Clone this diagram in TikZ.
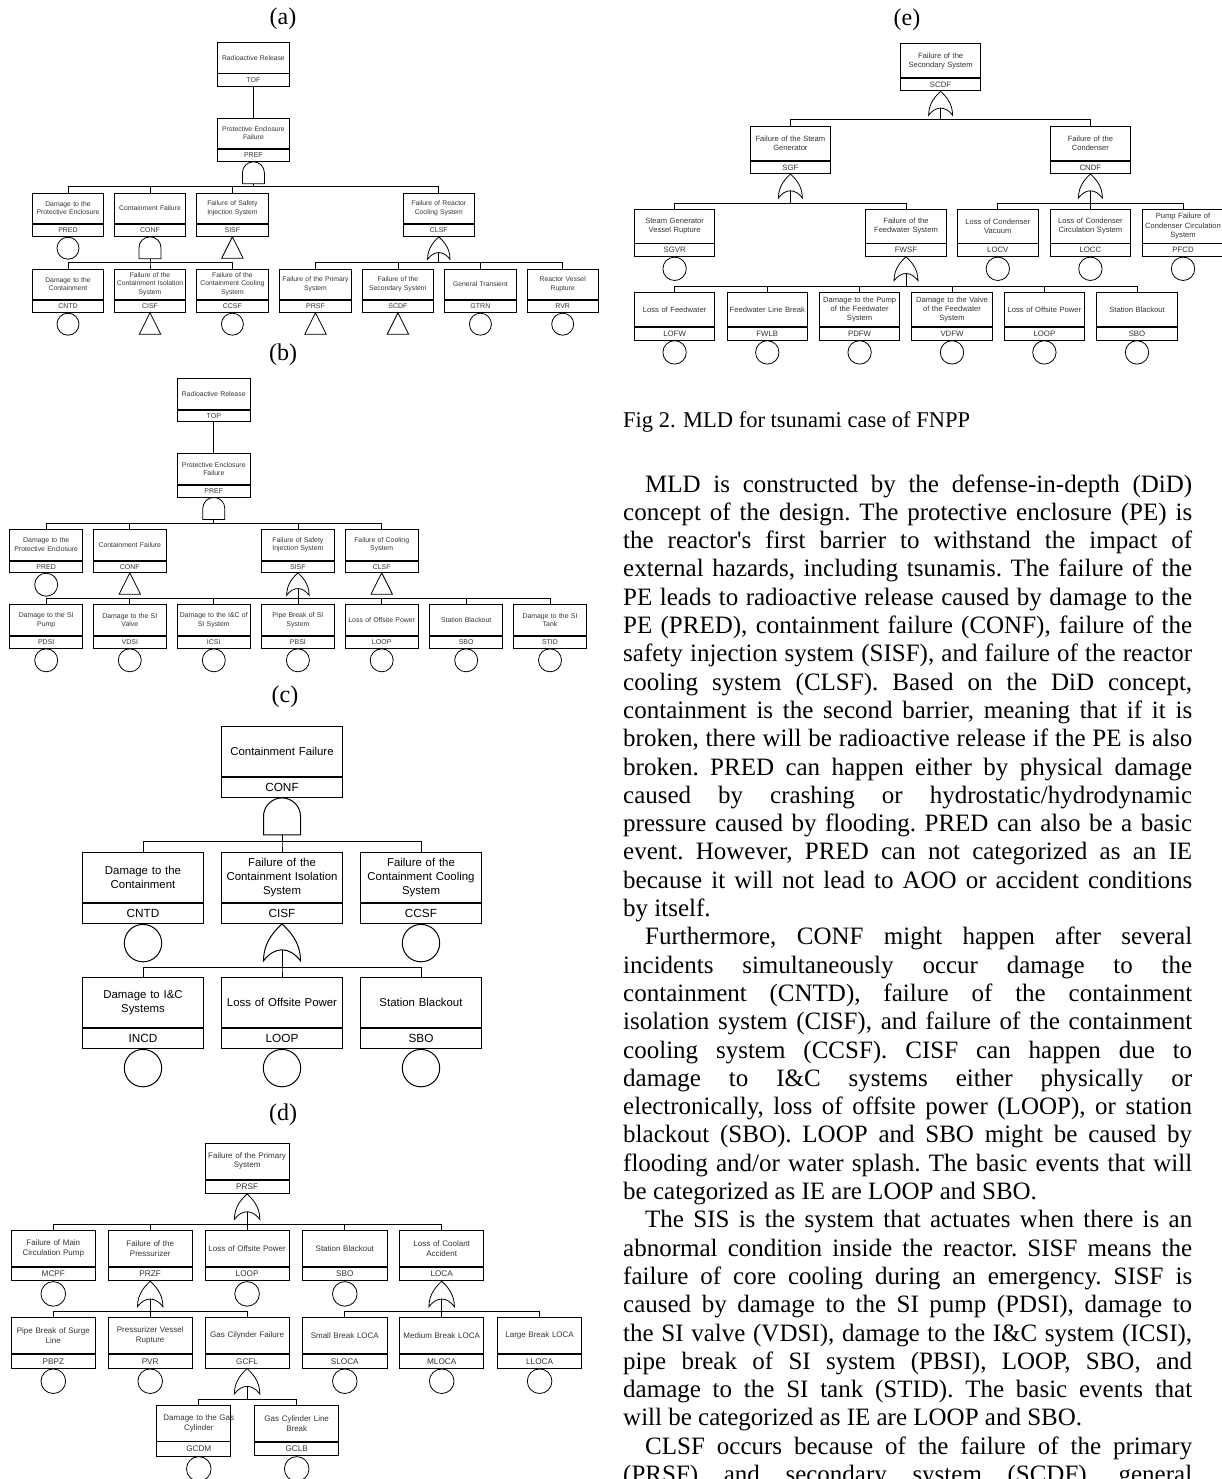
\documentclass[tikz,border=0pt]{standalone}
\usepackage{fontspec}
\setmainfont{Liberation Serif}
\newfontfamily\evfont{Liberation Sans}
\usetikzlibrary{positioning}

\tikzset{
  evname/.style={draw, rectangle, inner sep=0pt, anchor=north, align=center},
  evcode/.style={draw, rectangle, inner sep=0pt},
  basic/.style={draw, circle, inner sep=0pt},
  lbl/.style={font=\fontsize{24}{28}\selectfont},
  % gates, apex on the box above
  andgate/.pic={
    \draw (-0.5*#1,#1) -- (-0.5*#1,0.5*#1) .. controls (-0.5*#1,0.224*#1) and (-0.276*#1,0) .. (0,0)
      .. controls (0.276*#1,0) and (0.5*#1,0.224*#1) .. (0.5*#1,0.5*#1) -- (0.5*#1,#1) -- cycle;
    \coordinate (-bot) at (0,#1);
  },
  orgate/.pic={
    \draw (0,0) .. controls (0.15*#1,0.15*#1) and (0.5*#1,0.45*#1) .. (0.5*#1,#1)
      .. controls (0.2*#1,0.6*#1) and (-0.2*#1,0.6*#1) .. (-0.5*#1,#1)
      .. controls (-0.5*#1,0.45*#1) and (-0.15*#1,0.15*#1) .. (0,0) -- cycle;
    \coordinate (-bot) at (0,0.7*#1);
  },
  xfer/.pic={
    \draw (0,0) -- (0.5*#1,#1) -- (-0.5*#1,#1) -- cycle;
  }
}

\begin{document}
\begin{tikzpicture}[x=1pt,y=-1pt]
\useasboundingbox (0,0) rectangle (1222,1479);

%% ---------------- (a) ----------------
\node[lbl] (la) at (283,19) {(a)};
\begin{scope}[line width=0.8pt,
  na/.style={evname, minimum width=71.5, text width=69, minimum height=30.4, text=black!80, font=\evfont\fontsize{6.8}{8.2}\selectfont},
  ca/.style={evcode, minimum width=71.5, minimum height=12.2, text=black!80, font=\evfont\fontsize{7}{8.2}\selectfont},
  ba/.style={basic, minimum size=22}]
\node[na] (atop) at (253.4,42.2) {Radioactive Release};
\node[ca, below=0pt of atop] (atopc) {TOF};
\node[na] (apref) at (253.4,117.6) {Protective Enclosure\\Failure};
\node[ca, below=0pt of apref] (aprefc) {PREF};
\draw (atopc) -- (apref);
\pic (aprefg) at (aprefc.south) {andgate=22};
\coordinate (abus1) at (0,186.8);

% first level
\node[na] (apred) at (68,192.6) {Damage to the\\Protective Enclosure};
\node[ca, below=0pt of apred] (apredc) {PRED};
\node[na] (aconf) at (150,192.6) {Containment Failure};
\node[ca, below=0pt of aconf] (aconfc) {CONF};
\node[na] (asisf) at (232.4,192.6) {Failure of Safety\\Injection System};
\node[ca, below=0pt of asisf] (asisfc) {SISF};
\node[na] (aclsf) at (438.8,192.6) {Failure of Reactor\\Cooling System};
\node[ca, below=0pt of aclsf] (aclsfc) {CLSF};
\draw (aprefg-bot) -- (aprefg-bot |- abus1) -| (apred.north);
\draw (aprefg-bot) -- (aprefg-bot |- abus1) -| (aconf.north);
\draw (aprefg-bot) -- (aprefg-bot |- abus1) -| (asisf.north);
\draw (aprefg-bot) -- (aprefg-bot |- abus1) -| (aclsf.north);
\node[ba, below=0pt of apredc] (apredb) {};
\pic (aconfg) at (aconfc.south) {andgate=22};
\pic (asisft) at (asisfc.south) {xfer=21.5};
\pic (aclsfg) at (aclsfc.south) {orgate=22.5};
\coordinate (abus2) at (0,262.8);

% second level
\node[na] (acntd) at (68,268.6) {Damage to the\\Containment};
\node[ca, below=0pt of acntd] (acntdc) {CNTD};
\node[na] (acisf) at (150,268.6) {Failure of the\\Containment Isolation\\System};
\node[ca, below=0pt of acisf] (acisfc) {CISF};
\node[na] (accsf) at (232.4,268.6) {Failure of the\\Containment Cooling\\System};
\node[ca, below=0pt of accsf] (accsfc) {CCSF};
\node[na] (aprsf) at (315.5,268.6) {Failure of the Primary\\System};
\node[ca, below=0pt of aprsf] (aprsfc) {PRSF};
\node[na] (ascdf) at (397.9,268.6) {Failure of the\\Secondary System};
\node[ca, below=0pt of ascdf] (ascdfc) {SCDF};
\node[na] (agtrn) at (480.4,268.6) {General Transient};
\node[ca, below=0pt of agtrn] (agtrnc) {GTRN};
\node[na] (arvr) at (562.7,268.6) {Reactor Vessel\\Rupture};
\node[ca, below=0pt of arvr] (arvrc) {RVR};
\draw (aconfg-bot) -- (aconfg-bot |- abus2) -| (acntd.north);
\draw (aconfg-bot) -- (aconfg-bot |- abus2) -| (acisf.north);
\draw (aconfg-bot) -- (aconfg-bot |- abus2) -| (accsf.north);
\draw (aclsfg-bot) -- (aclsfg-bot |- abus2) -| (aprsf.north);
\draw (aclsfg-bot) -- (aclsfg-bot |- abus2) -| (ascdf.north);
\draw (aclsfg-bot) -- (aclsfg-bot |- abus2) -| (agtrn.north);
\draw (aclsfg-bot) -- (aclsfg-bot |- abus2) -| (arvr.north);
\node[ba, below=0pt of acntdc] (acntdb) {};
\pic (acisft) at (acisfc.south) {xfer=21.5};
\node[ba, below=0pt of accsfc] (accsfb) {};
\pic (aprsft) at (aprsfc.south) {xfer=21.5};
\pic (ascdft) at (ascdfc.south) {xfer=21.5};
\node[ba, below=0pt of agtrnc] (agtrnb) {};
\node[ba, below=0pt of arvrc] (arvrb) {};
\end{scope}

%% ---------------- (b) ----------------
\node[lbl] (lb) at (283,355) {(b)};
\begin{scope}[line width=0.8pt,
  nb/.style={evname, minimum width=73, text width=71, minimum height=31, text=black!80, font=\evfont\fontsize{6.9}{8.3}\selectfont},
  cb/.style={evcode, minimum width=73, minimum height=11.5, text=black!80, font=\evfont\fontsize{7}{8.3}\selectfont},
  bb/.style={basic, minimum size=23}]
\node[nb] (btop) at (213.8,377.7) {Radioactive Release};
\node[cb, below=0pt of btop] (btopc) {TOP};
\node[nb] (bpref) at (213.8,453.3) {Protective Enclosure\\Failure};
\node[cb, below=0pt of bpref] (bprefc) {PREF};
\draw (btopc) -- (bpref);
\pic (bprefg) at (bprefc.south) {andgate=22};
\coordinate (bbus1) at (0,523.7);

\node[nb] (bpred) at (46.2,528.7) {Damage to the\\Protective Enclosure};
\node[cb, below=0pt of bpred] (bpredc) {PRED};
\node[nb] (bconf) at (129.8,528.7) {Containment Failure};
\node[cb, below=0pt of bconf] (bconfc) {CONF};
\node[nb] (bsisf) at (297.9,528.7) {Failure of Safety\\Injection System};
\node[cb, below=0pt of bsisf] (bsisfc) {SISF};
\node[nb] (bclsf) at (381.7,528.7) {Failure of Cooling\\System};
\node[cb, below=0pt of bclsf] (bclsfc) {CLSF};
\draw (bprefg-bot) -- (bprefg-bot |- bbus1) -| (bpred.north);
\draw (bprefg-bot) -- (bprefg-bot |- bbus1) -| (bconf.north);
\draw (bprefg-bot) -- (bprefg-bot |- bbus1) -| (bsisf.north);
\draw (bprefg-bot) -- (bprefg-bot |- bbus1) -| (bclsf.north);
\node[bb, below=0pt of bpredc] (bpredb) {};
\pic (bconft) at (bconfc.south) {xfer=21.5};
\pic (bsisfg) at (bsisfc.south) {orgate=22.5};
\pic (bclsft) at (bclsfc.south) {xfer=21.5};
\coordinate (bbus2) at (0,598.3);

\node[nb] (bpdsi) at (46.2,604.3) {Damage to the SI\\Pump};
\node[cb, below=0pt of bpdsi] (bpdsic) {PDSI};
\node[nb] (bvdsi) at (129.8,604.3) {Damage to the SI\\Valve};
\node[cb, below=0pt of bvdsi] (bvdsic) {VDSI};
\node[nb] (bicsi) at (213.8,604.3) {Damage to the I\&C of\\SI System};
\node[cb, below=0pt of bicsi] (bicsic) {ICSI};
\node[nb] (bpbsi) at (297.9,604.3) {Pipe Break of SI\\System};
\node[cb, below=0pt of bpbsi] (bpbsic) {PBSI};
\node[nb] (bloop) at (381.7,604.3) {Loss of Offsite Power};
\node[cb, below=0pt of bloop] (bloopc) {LOOP};
\node[nb] (bsbo) at (466.2,604.3) {Station Blackout};
\node[cb, below=0pt of bsbo] (bsboc) {SBO};
\node[nb] (bstid) at (550,604.3) {Damage to the SI\\Tank};
\node[cb, below=0pt of bstid] (bstidc) {STID};
\draw (bsisfg-bot) -- (bsisfg-bot |- bbus2) -| (bpdsi.north);
\draw (bsisfg-bot) -- (bsisfg-bot |- bbus2) -| (bvdsi.north);
\draw (bsisfg-bot) -- (bsisfg-bot |- bbus2) -| (bicsi.north);
\draw (bsisfg-bot) -- (bsisfg-bot |- bbus2) -| (bpbsi.north);
\draw (bsisfg-bot) -- (bsisfg-bot |- bbus2) -| (bloop.north);
\draw (bsisfg-bot) -- (bsisfg-bot |- bbus2) -| (bsbo.north);
\draw (bsisfg-bot) -- (bsisfg-bot |- bbus2) -| (bstid.north);
\node[bb, below=0pt of bpdsic] (bpdsib) {};
\node[bb, below=0pt of bvdsic] (bvdsib) {};
\node[bb, below=0pt of bicsic] (bicsib) {};
\node[bb, below=0pt of bpbsic] (bpbsib) {};
\node[bb, below=0pt of bloopc] (bloopb) {};
\node[bb, below=0pt of bsboc] (bsbob) {};
\node[bb, below=0pt of bstidc] (bstidb) {};
\end{scope}

%% ---------------- (c) ----------------
\node[lbl] (lc) at (285,697) {(c)};
\begin{scope}[line width=1pt,
  nc/.style={evname, minimum width=120.6, text width=117, minimum height=50.5, font=\evfont\fontsize{11.4}{13.7}\selectfont},
  cc/.style={evcode, minimum width=120.6, minimum height=19.7, font=\evfont\fontsize{11.8}{13.7}\selectfont},
  bc/.style={basic, minimum size=37.4}]
\node[nc] (cconf) at (282,725.7) {Containment Failure};
\node[cc, below=0pt of cconf] (cconfc) {CONF};
\pic (cconfg) at (cconfc.south) {andgate=37};
\coordinate (cbus1) at (0,841.7);

\node[nc] (ccntd) at (143,851.7) {Damage to the\\Containment};
\node[cc, below=0pt of ccntd] (ccntdc) {CNTD};
\node[nc] (ccisf) at (282,851.7) {Failure of the\\Containment Isolation\\System};
\node[cc, below=0pt of ccisf] (ccisfc) {CISF};
\node[nc] (cccsf) at (421,851.7) {Failure of the\\Containment Cooling\\System};
\node[cc, below=0pt of cccsf] (cccsfc) {CCSF};
\draw (cconfg-bot) -- (cconfg-bot |- cbus1) -| (ccntd.north);
\draw (cconfg-bot) -- (cconfg-bot |- cbus1) -| (ccisf.north);
\draw (cconfg-bot) -- (cconfg-bot |- cbus1) -| (cccsf.north);
\node[bc, below=0pt of ccntdc] (ccntdb) {};
\pic (ccisfg) at (ccisfc.south) {orgate=37};
\node[bc, below=0pt of cccsfc] (cccsfb) {};
\coordinate (cbus2) at (0,967.3);

\node[nc] (cincd) at (143,976.7) {Damage to I\&C\\Systems};
\node[cc, below=0pt of cincd] (cincdc) {INCD};
\node[nc] (cloop) at (282,976.7) {Loss of Offsite Power};
\node[cc, below=0pt of cloop] (cloopc) {LOOP};
\node[nc] (csbo) at (421,976.7) {Station Blackout};
\node[cc, below=0pt of csbo] (csboc) {SBO};
\draw (ccisfg-bot) -- (ccisfg-bot |- cbus2) -| (cincd.north);
\draw (ccisfg-bot) -- (ccisfg-bot |- cbus2) -| (cloop.north);
\draw (ccisfg-bot) -- (ccisfg-bot |- cbus2) -| (csbo.north);
\node[bc, below=0pt of cincdc] (cincdb) {};
\node[bc, below=0pt of cloopc] (cloopb) {};
\node[bc, below=0pt of csboc] (csbob) {};
\end{scope}

%% ---------------- (d) ----------------
\node[lbl] (ld) at (283,1115) {(d)};
\begin{scope}[line width=0.8pt,
  nd/.style={evname, minimum width=84.3, text width=82, minimum height=36, text=black!80, font=\evfont\fontsize{8}{9.6}\selectfont},
  cd/.style={evcode, minimum width=84.3, minimum height=13.6, text=black!80, font=\evfont\fontsize{8.2}{9.6}\selectfont},
  bd/.style={basic, minimum size=24.6}]
\node[nd] (dprsf) at (247.1,1142.7) {Failure of the Primary\\System};
\node[cd, below=0pt of dprsf] (dprsfc) {PRSF};
\pic (dprsfg) at (dprsfc.south) {orgate=25.5};
\coordinate (dbus1) at (0,1224);

\node[nd] (dmcpf) at (53.3,1230) {Failure of Main\\Circulation Pump};
\node[cd, below=0pt of dmcpf] (dmcpfc) {MCPF};
\node[nd] (dprzf) at (150.2,1230) {Failure of the\\Pressurizer};
\node[cd, below=0pt of dprzf] (dprzfc) {PRZF};
\node[nd] (dloop) at (247.1,1230) {Loss of Offsite Power};
\node[cd, below=0pt of dloop] (dloopc) {LOOP};
\node[nd] (dsbo) at (344.8,1230) {Station Blackout};
\node[cd, below=0pt of dsbo] (dsboc) {SBO};
\node[nd] (dloca) at (441.7,1230) {Loss of Coolant\\Accident};
\node[cd, below=0pt of dloca] (dlocac) {LOCA};
\draw (dprsfg-bot) -- (dprsfg-bot |- dbus1) -| (dmcpf.north);
\draw (dprsfg-bot) -- (dprsfg-bot |- dbus1) -| (dprzf.north);
\draw (dprsfg-bot) -- (dprsfg-bot |- dbus1) -| (dloop.north);
\draw (dprsfg-bot) -- (dprsfg-bot |- dbus1) -| (dsbo.north);
\draw (dprsfg-bot) -- (dprsfg-bot |- dbus1) -| (dloca.north);
\node[bd, below=0pt of dmcpfc] (dmcpfb) {};
\pic (dprzfg) at (dprzfc.south) {orgate=25.5};
\node[bd, below=0pt of dloopc] (dloopb) {};
\node[bd, below=0pt of dsboc] (dsbob) {};
\pic (dlocag) at (dlocac.south) {orgate=25.5};
\coordinate (dbus2) at (0,1311);

\node[nd] (dpbpz) at (53.3,1317.3) {Pipe Break of Surge\\Line};
\node[cd, below=0pt of dpbpz] (dpbpzc) {PBPZ};
\node[nd] (dpvr) at (150.2,1317.3) {Pressurizer Vessel\\Rupture};
\node[cd, below=0pt of dpvr] (dpvrc) {PVR};
\node[nd] (dgcfl) at (247.1,1317.3) {Gas Cilynder Failure};
\node[cd, below=0pt of dgcfl] (dgcflc) {GCFL};
\node[nd] (dsloca) at (344.8,1317.3) {Small Break LOCA};
\node[cd, below=0pt of dsloca] (dslocac) {SLOCA};
\node[nd] (dmloca) at (441.7,1317.3) {Medium Break LOCA};
\node[cd, below=0pt of dmloca] (dmlocac) {MLOCA};
\node[nd] (dlloca) at (539.6,1317.3) {Large Break LOCA};
\node[cd, below=0pt of dlloca] (dllocac) {LLOCA};
\draw (dprzfg-bot) -- (dprzfg-bot |- dbus2) -| (dpbpz.north);
\draw (dprzfg-bot) -- (dprzfg-bot |- dbus2) -| (dpvr.north);
\draw (dprzfg-bot) -- (dprzfg-bot |- dbus2) -| (dgcfl.north);
\draw (dlocag-bot) -- (dlocag-bot |- dbus2) -| (dsloca.north);
\draw (dlocag-bot) -- (dlocag-bot |- dbus2) -| (dmloca.north);
\draw (dlocag-bot) -- (dlocag-bot |- dbus2) -| (dlloca.north);
\node[bd, below=0pt of dpbpzc] (dpbpzb) {};
\node[bd, below=0pt of dpvrc] (dpvrb) {};
\pic (dgcflg) at (dgcflc.south) {orgate=25.5};
\node[bd, below=0pt of dslocac] (dslocab) {};
\node[bd, below=0pt of dmlocac] (dmlocab) {};
\node[bd, below=0pt of dllocac] (dllocab) {};
\coordinate (dbus3) at (0,1399);

\node[nd, draw=none] (dgcdm) at (198.8,1405) {Damage to the Gas\\Cylinder};
\node[cd, draw=none, below=0pt of dgcdm] (dgcdmc) {GCDM};
\draw (dgcdm.north west) rectangle ([xshift=-11pt]dgcdmc.south east); % narrow box
\draw (dgcdm.south west) -- ([xshift=-11pt]dgcdm.south east);
\node[nd] (dgclb) at (296.7,1405) {Gas Cylinder Line\\Break};
\node[cd, below=0pt of dgclb] (dgclbc) {GCLB};
\draw (dgcflg-bot) -- (dgcflg-bot |- dbus3) -| (dgcdm.north);
\draw (dgcflg-bot) -- (dgcflg-bot |- dbus3) -| (dgclb.north);
\node[bd, below=0pt of dgcdmc] (dgcdmb) {};
\node[bd, below=0pt of dgclbc] (dgclbb) {};
\end{scope}

%% ---------------- (e) ----------------
\node[lbl] (le) at (907,20) {(e)};
\begin{scope}[line width=0.8pt,
  ne/.style={evname, minimum width=80.4, text width=78, minimum height=34, text=black!80, font=\evfont\fontsize{7.6}{9.1}\selectfont},
  ce/.style={evcode, minimum width=80.4, minimum height=12.4, text=black!80, font=\evfont\fontsize{7.8}{9.1}\selectfont},
  be/.style={basic, minimum size=23.4}]
\node[ne] (escdf) at (940.6,43.3) {Failure of the\\Secondary System};
\node[ce, below=0pt of escdf] (escdfc) {SCDF};
\pic (escdfg) at (escdfc.south) {orgate=24};
\coordinate (ebus1) at (0,119.3);

\node[ne] (esgf) at (790.4,126) {Failure of the Steam\\Generator};
\node[ce, below=0pt of esgf] (esgfc) {SGF};
\node[ne] (ecndf) at (1090.4,126) {Failure of the\\Condenser};
\node[ce, below=0pt of ecndf] (ecndfc) {CNDF};
\draw (escdfg-bot) -- (escdfg-bot |- ebus1) -| (esgf.north);
\draw (escdfg-bot) -- (escdfg-bot |- ebus1) -| (ecndf.north);
\pic (esgfg) at (esgfc.south) {orgate=24};
\pic (ecndfg) at (ecndfc.south) {orgate=24};
\coordinate (ebus2) at (0,203.3);

\node[ne] (esgvr) at (674.6,208.7) {Steam Generator\\Vessel Rupture};
\node[ce, below=0pt of esgvr] (esgvrc) {SGVR};
\node[ne] (efwsf) at (906,208.7) {Failure of the\\Feedwater System};
\node[ce, below=0pt of efwsf] (efwsfc) {FWSF};
\node[ne] (elocv) at (997.8,208.7) {Loss of Condenser\\Vacuum};
\node[ce, below=0pt of elocv] (elocvc) {LOCV};
\node[ne] (elocc) at (1090.4,208.7) {Loss of Condenser\\Circulation System};
\node[ce, below=0pt of elocc] (eloccc) {LOCC};
\node[ne] (epfcd) at (1183,208.7) {Pump Failure of\\Condenser Circulation\\System};
\node[ce, below=0pt of epfcd] (epfcdc) {PFCD};
\draw (esgfg-bot) -- (esgfg-bot |- ebus2) -| (esgvr.north);
\draw (esgfg-bot) -- (esgfg-bot |- ebus2) -| (efwsf.north);
\draw (ecndfg-bot) -- (ecndfg-bot |- ebus2) -| (elocv.north);
\draw (ecndfg-bot) -- (ecndfg-bot |- ebus2) -| (elocc.north);
\draw (ecndfg-bot) -- (ecndfg-bot |- ebus2) -| (epfcd.north);
\node[be, below=0pt of esgvrc] (esgvrb) {};
\pic (efwsfg) at (efwsfc.south) {orgate=24};
\node[be, below=0pt of elocvc] (elocvb) {};
\node[be, below=0pt of eloccc] (eloccb) {};
\node[be, below=0pt of epfcdc] (epfcdb) {};
\coordinate (ebus3) at (0,286);

\node[ne] (elofw) at (674.6,292.3) {Loss of Feedwater};
\node[ce, below=0pt of elofw] (elofwc) {LOFW};
\node[ne] (efwlb) at (767.3,292.3) {Feedwater Line Break};
\node[ce, below=0pt of efwlb] (efwlbc) {FWLB};
\node[ne] (epdfw) at (859.6,292.3) {Damage to the Pump\\of the Feedwater\\System};
\node[ce, below=0pt of epdfw] (epdfwc) {PDFW};
\node[ne] (evdfw) at (952,292.3) {Damage to the Valve\\of the Feedwater\\System};
\node[ce, below=0pt of evdfw] (evdfwc) {VDFW};
\node[ne] (eloop) at (1044.4,292.3) {Loss of Offsite Power};
\node[ce, below=0pt of eloop] (eloopc) {LOOP};
\node[ne] (esbo) at (1137,292.3) {Station Blackout};
\node[ce, below=0pt of esbo] (esboc) {SBO};
\draw (efwsfg-bot) -- (efwsfg-bot |- ebus3) -| (elofw.north);
\draw (efwsfg-bot) -- (efwsfg-bot |- ebus3) -| (efwlb.north);
\draw (efwsfg-bot) -- (efwsfg-bot |- ebus3) -| (epdfw.north);
\draw (efwsfg-bot) -- (efwsfg-bot |- ebus3) -| (evdfw.north);
\draw (efwsfg-bot) -- (efwsfg-bot |- ebus3) -| (eloop.north);
\draw (efwsfg-bot) -- (efwsfg-bot |- ebus3) -| (esbo.north);
\node[be, below=0pt of elofwc] (elofwb) {};
\node[be, below=0pt of efwlbc] (efwlbb) {};
\node[be, below=0pt of epdfwc] (epdfwb) {};
\node[be, below=0pt of evdfwc] (evdfwb) {};
\node[be, below=0pt of eloopc] (eloopb) {};
\node[be, below=0pt of esboc] (esbob) {};
\end{scope}

%% ---------------- caption and text ----------------
\node[anchor=base west, inner sep=0pt, font=\fontsize{22.5}{27}\selectfont] (cap) at (623,427) {Fig 2. MLD for tsunami case of FNPP};

\node[anchor=base west, inner sep=0pt, text width=569pt, align=justify,
      font=\fontsize{25}{28.3}\selectfont] (body) at (623,492) {%
\frenchspacing\hyphenpenalty=10000 \exhyphenpenalty=10000 \tolerance=10000 \parskip=0pt
\noindent\hspace*{22pt}MLD is constructed by the defense-in-depth (DiD)\linebreak
concept of the design. The protective enclosure (PE) is\linebreak
the reactor\textquotesingle s first barrier to withstand the impact of\linebreak
external hazards, including tsunamis. The failure of the\linebreak
PE leads to radioactive release caused by damage to the\linebreak
PE (PRED), containment failure (CONF), failure of the\linebreak
safety injection system (SISF), and failure of the reactor\linebreak
cooling system (CLSF). Based on the DiD concept,\linebreak
containment is the second barrier, meaning that if it is\linebreak
broken, there will be radioactive release if the PE is also\linebreak
broken. PRED can happen either by physical damage\linebreak
caused by crashing or hydrostatic/hydrodynamic\linebreak
pressure caused by flooding. PRED can also be a basic\linebreak
event. However, PRED can not categorized as an IE\linebreak
because it will not lead to AOO or accident conditions\linebreak
by itself.\par
\noindent\hspace*{22pt}Furthermore, CONF might happen after several\linebreak
incidents simultaneously occur damage to the\linebreak
containment (CNTD), failure of the containment\linebreak
isolation system (CISF), and failure of the containment\linebreak
cooling system (CCSF). CISF can happen due to\linebreak
damage to I\&C systems either physically or\linebreak
electronically, loss of offsite power (LOOP), or station\linebreak
blackout (SBO). LOOP and SBO might be caused by\linebreak
flooding and/or water splash. The basic events that will\linebreak
be categorized as IE are LOOP and SBO.\par
\noindent\hspace*{22pt}The SIS is the system that actuates when there is an\linebreak
abnormal condition inside the reactor. SISF means the\linebreak
failure of core cooling during an emergency. SISF is\linebreak
caused by damage to the SI pump (PDSI), damage to\linebreak
the SI valve (VDSI), damage to the I\&C system (ICSI),\linebreak
pipe break of SI system (PBSI), LOOP, SBO, and\linebreak
damage to the SI tank (STID). The basic events that\linebreak
will be categorized as IE are LOOP and SBO.\par
\noindent\hspace*{22pt}CLSF occurs because of the failure of the primary\linebreak
(PRSF) and secondary system (SCDF), general\linebreak
};
\end{tikzpicture}
\end{document}
